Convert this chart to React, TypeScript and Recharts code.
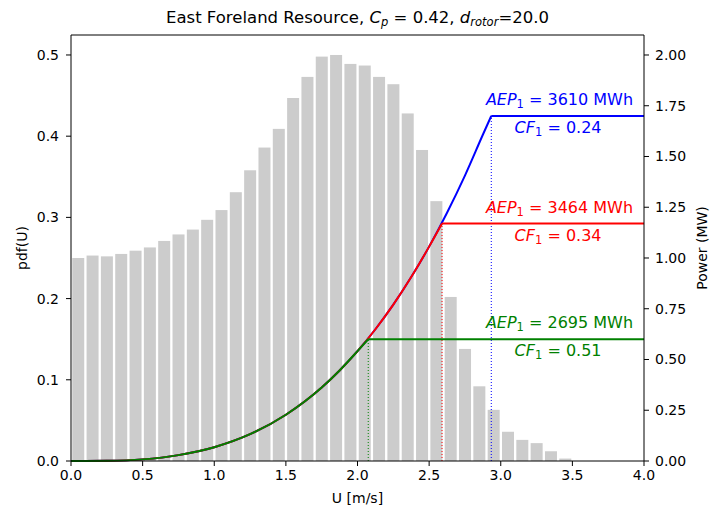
import React from 'react';
import { ComposedChart, Bar, Line, XAxis, YAxis, ReferenceDot, ReferenceLine } from 'recharts';

// histogram of wind speed (bin centres, 0.1 m/s wide)
const binCenters = [
  0.05, 0.15, 0.25, 0.35, 0.45, 0.55, 0.65, 0.75, 0.85, 0.95,
  1.05, 1.15, 1.25, 1.35, 1.45, 1.55, 1.65, 1.75, 1.85, 1.95,
  2.05, 2.15, 2.25, 2.35, 2.45, 2.55, 2.65, 2.75, 2.85, 2.95,
  3.05, 3.15, 3.25, 3.35, 3.45,
];
const pdfValues = [
  0.25, 0.253, 0.252, 0.255, 0.259, 0.263, 0.271, 0.279, 0.285, 0.297,
  0.309, 0.331, 0.358, 0.386, 0.409, 0.447, 0.473, 0.498, 0.5, 0.489,
  0.487, 0.473, 0.464, 0.428, 0.383, 0.32, 0.202, 0.138, 0.092, 0.063,
  0.036, 0.026, 0.022, 0.012, 0.003,
];

// power curve (MW)
const curveU = [0, 0.25, 0.5, 0.75, 1, 1.25, 1.5, 1.75, 1.875, 2, 2.125, 2.25, 2.375, 2.5, 2.625, 2.75, 2.875];
const curveP = [0, 0.001, 0.008, 0.029, 0.068, 0.132, 0.228, 0.362, 0.446, 0.541, 0.649, 0.77, 0.906, 1.056, 1.223, 1.406, 1.607];

// three turbine ratings: blue, red, green
const ratedU = [2.934, 2.59, 2.075];
const ratedP = [1.7, 1.17, 0.6];
const aepValues = [3610, 3464, 2695];
const cfValues = [0.24, 0.34, 0.51];
const colors = ['#0000ff', '#ff0000', '#008000'];

const xTicks = [0, 0.5, 1, 1.5, 2, 2.5, 3, 3.5, 4];
const pdfTicks = [0, 0.1, 0.2, 0.3, 0.4, 0.5];
const powerTicks = [0, 0.25, 0.5, 0.75, 1, 1.25, 1.5, 1.75, 2];

const FONT = 'DejaVu Sans';
const PDF_MAX = 0.5246;
const histData = binCenters.map((u, i) => ({ u, pdf: pdfValues[i] }));

const turbines = ratedU.map((ur, i) => {
  const curve = curveU
    .map((u, j) => ({ u, p: curveP[j] }))
    .filter(d => d.u < ur);
  curve.push({ u: ur, p: ratedP[i] });
  return {
    color: colors[i],
    curve,
    flat: [{ u: ur, p: ratedP[i] }, { u: 4, p: ratedP[i] }],
    drop: [{ u: ur, p: 0 }, { u: ur, p: ratedP[i] }],
    aep: aepValues[i],
    cf: cfValues[i],
    level: ratedP[i],
  };
});

const tickStyle = { fill: '#000', fontSize: 14, fontFamily: FONT };

// bars are 0.085 m/s wide, centred on their bin
const HistBar = (props: any) => {
  const { x, y, width, height, fill } = props;
  const w = 12;
  return <rect x={x + width / 2 - w / 2} y={y} width={w} height={height} fill={fill} />;
};

const BottomLabels = () => (
  <g>
    <text x={357.5} y={23} textAnchor="middle" fontSize={16.5} fontFamily={FONT} fill="#000">
      East Foreland Resource, <tspan fontStyle="italic">C</tspan>
      <tspan fontStyle="italic" fontSize={11.5} dy={3}>p</tspan>
      <tspan dy={-3}> = 0.42, </tspan>
      <tspan fontStyle="italic">d</tspan>
      <tspan fontStyle="italic" fontSize={11.5} dy={3}>rotor</tspan>
      <tspan dy={-3}>=20.0</tspan>
    </text>
    <text x={357.5} y={503} textAnchor="middle" fontSize={14} fontFamily={FONT} fill="#000">
      U [m/s]
    </text>
  </g>
);

const AepNote = (color: string, value: number) => (props: any) => (
  <text x={props.cx} y={props.cy} textAnchor="middle" fontSize={16} fontFamily={FONT} fill={color}>
    <tspan fontStyle="italic">AEP</tspan>
    <tspan fontSize={11.5} dy={3}>1</tspan>
    <tspan dy={-3}>{` = ${value} MWh`}</tspan>
  </text>
);

const CfNote = (color: string, value: number) => (props: any) => (
  <text x={props.cx} y={props.cy} textAnchor="middle" fontSize={16} fontFamily={FONT} fill={color}>
    <tspan fontStyle="italic">CF</tspan>
    <tspan fontSize={11.5} dy={3}>1</tspan>
    <tspan dy={-3}>{` = ${value.toFixed(2)}`}</tspan>
  </text>
);

export default function App() {
  return (
    <div style={{ position: 'absolute', left: 0, top: 0, width: 712, height: 517, background: '#fff' }}>
      <ComposedChart width={712} height={517} data={histData} margin={{ top: 35, right: 0, bottom: 0, left: 0 }}>
        <XAxis
          type="number"
          dataKey="u"
          domain={[0, 4]}
          ticks={xTicks}
          tickFormatter={(v: number) => v.toFixed(1)}
          height={56}
          tick={tickStyle}
          tickSize={5}
          tickMargin={4}
          axisLine={{ stroke: '#000' }}
          tickLine={{ stroke: '#000' }}
          label={{ content: () => <BottomLabels /> }}
        />
        <YAxis
          yAxisId="left"
          type="number"
          domain={[0, PDF_MAX]}
          ticks={pdfTicks}
          tickFormatter={(v: number) => v.toFixed(1)}
          width={71}
          tick={tickStyle}
          tickSize={5}
          tickMargin={7}
          axisLine={{ stroke: '#000' }}
          tickLine={{ stroke: '#000' }}
          label={{
            content: () => (
              <text x={27} y={248} textAnchor="middle" fontSize={14} fontFamily={FONT} fill="#000" transform="rotate(-90 27 248)">
                pdf(U)
              </text>
            ),
          }}
        />
        <YAxis
          yAxisId="right"
          orientation="right"
          type="number"
          domain={[0, 2.0985]}
          ticks={powerTicks}
          tickFormatter={(v: number) => v.toFixed(2)}
          width={68}
          tick={tickStyle}
          tickSize={5}
          tickMargin={6}
          axisLine={{ stroke: '#000' }}
          tickLine={{ stroke: '#000' }}
          label={{
            content: () => (
              <text x={707} y={248} textAnchor="middle" fontSize={14} fontFamily={FONT} fill="#000" transform="rotate(-90 707 248)">
                Power (MW)
              </text>
            ),
          }}
        />
        <Bar yAxisId="left" dataKey="pdf" fill="#cccccc" shape={HistBar} isAnimationActive={false} />
        <ReferenceLine yAxisId="left" y={PDF_MAX} stroke="#000" strokeWidth={1} />
        {turbines.map((t, i) => (
          <Line
            key={`drop${i}`}
            yAxisId="right"
            data={t.drop}
            dataKey="p"
            type="linear"
            stroke={t.color}
            strokeWidth={1}
            strokeDasharray="1 2"
            dot={false}
            activeDot={false}
            isAnimationActive={false}
          />
        ))}
        {turbines.map((t, i) => (
          <Line
            key={`curve${i}`}
            yAxisId="right"
            data={t.curve}
            dataKey="p"
            type="monotone"
            stroke={t.color}
            strokeWidth={2}
            dot={false}
            activeDot={false}
            isAnimationActive={false}
          />
        ))}
        {turbines.map((t, i) => (
          <Line
            key={`flat${i}`}
            yAxisId="right"
            data={t.flat}
            dataKey="p"
            type="linear"
            stroke={t.color}
            strokeWidth={2}
            dot={false}
            activeDot={false}
            isAnimationActive={false}
          />
        ))}
        {turbines.map((t, i) => (
          <ReferenceDot
            key={`aep${i}`}
            yAxisId="right"
            x={3.41}
            y={t.level + 0.053}
            r={0}
            shape={AepNote(t.color, t.aep)}
          />
        ))}
        {turbines.map((t, i) => (
          <ReferenceDot
            key={`cf${i}`}
            yAxisId="right"
            x={3.4}
            y={t.level - 0.085}
            r={0}
            shape={CfNote(t.color, t.cf)}
          />
        ))}
      </ComposedChart>
    </div>
  );
}
